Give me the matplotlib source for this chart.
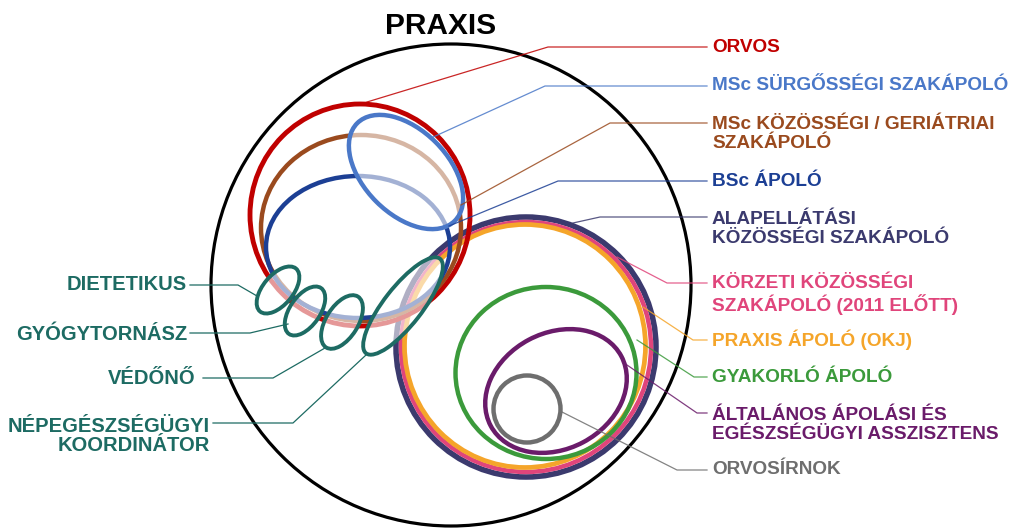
import matplotlib
matplotlib.use("Agg")
import matplotlib.pyplot as plt
from matplotlib.patches import Ellipse

plt.rcParams['font.family'] = ['Liberation Sans', 'DejaVu Sans']

# labels on the right side and their colours
right_labels = ["ORVOS", "MSc SÜRGŐSSÉGI SZAKÁPOLÓ", "MSc KÖZÖSSÉGI / GERIÁTRIAI\nSZAKÁPOLÓ",
                "BSc ÁPOLÓ", "ALAPELLÁTÁSI\nKÖZÖSSÉGI SZAKÁPOLÓ", "KÖRZETI KÖZÖSSÉGI\nSZAKÁPOLÓ (2011 ELŐTT)",
                "PRAXIS ÁPOLÓ (OKJ)", "GYAKORLÓ ÁPOLÓ", "ÁLTALÁNOS ÁPOLÁSI ÉS\nEGÉSZSÉGÜGYI ASSZISZTENS",
                "ORVOSÍRNOK"]
right_colors = ["#C00000", "#4A78C8", "#9A4A1E", "#1C3F94", "#3B3A6E", "#E0457B",
                "#F5A52A", "#3B9A3B", "#6A1B6A", "#6E6E6E"]
left_labels = ["DIETETIKUS", "GYÓGYTORNÁSZ", "VÉDŐNŐ", "NÉPEGÉSZSÉGÜGYI\nKOORDINÁTOR"]
teal = "#1D6B63"

fig = plt.figure(figsize=(10.13, 5.31), dpi=100)
ax = fig.add_axes([0, 0, 1, 1])
ax.set_xlim(0, 1013)
ax.set_ylim(531, 0)
ax.axis('off')

def ell(cx, cy, w, h, ang, col, lw, z, fill=False):
    e = Ellipse((cx, cy), w, h, angle=ang, edgecolor=col, lw=lw, zorder=z,
                facecolor=(1, 1, 1, 0.6) if fill else 'none')
    ax.add_patch(e)

# big praxis circle
ell(451, 285, 480, 482, 0, 'black', 2.3, 1)
ax.text(441, 26, "PRAXIS", ha='center', va='center', fontsize=21.5, fontweight='bold')

# right group
ell(526, 347, 260, 260, 0, right_colors[4], 4, 2)
ell(526, 347, 250, 250, 0, right_colors[5], 3.2, 2)
ell(525, 346, 241, 243, 0, right_colors[6], 3.4, 2)
ell(546, 373, 181, 172, 0, right_colors[7], 3.2, 2)
ell(556, 391, 148, 116, -28, right_colors[8], 3.2, 2)
ell(527, 409, 67, 67, 0, right_colors[9], 3.2, 2)

# left group
ell(360, 215, 220, 222, 0, right_colors[0], 3.5, 3)
ell(361, 228, 200, 186, 0, right_colors[2], 3.2, 3)
ell(358, 247, 184, 142, 0, right_colors[3], 3.2, 3)
ell(406, 172, 138, 84, 45, right_colors[1], 3.2, 4, fill=True)

# teal ellipses
ell(278, 290, 56, 30, -50, teal, 2.8, 5, fill=True)
ell(305, 311, 56, 30, -55, teal, 2.8, 5, fill=True)
ell(342, 322, 60, 32, -58, teal, 2.8, 5, fill=True)
ell(403, 306, 120, 38, -52, teal, 2.8, 5, fill=True)

# leader lines, right side
leaders_r = [[(367, 102), (548, 47), (707, 47)],
             [(431, 138), (545, 86), (707, 86)],
             [(461, 205), (610, 123), (707, 123)],
             [(449, 226), (558, 181), (707, 181)],
             [(573, 223), (600, 217), (707, 217)],
             [(617, 257), (667, 283), (707, 283)],
             [(643, 307), (693, 340), (707, 340)],
             [(637, 340), (694, 377), (707, 377)],
             [(627, 365), (697, 413), (707, 413)],
             [(562, 412), (677, 470), (707, 470)]]
for pts, c in zip(leaders_r, right_colors):
    ax.plot([p[0] for p in pts], [p[1] for p in pts], color=c, lw=0.9, alpha=0.85, zorder=6)

label_y = [47, 86, 134, 181, 229, 295, 340, 377, 425, 470]
for t, c, y in zip(right_labels, right_colors, label_y):
    ax.text(712, y, t, ha='left', va='center', fontsize=13.7, fontweight='bold',
            color=c, linespacing=1.12)

# leader lines, left side
leaders_l = [[(190, 285), (238, 285), (257, 296)],
             [(190, 333), (250, 333), (288, 324)],
             [(203, 378), (273, 378), (325, 348)],
             [(213, 423), (293, 423), (366, 355)]]
for pts in leaders_l:
    ax.plot([p[0] for p in pts], [p[1] for p in pts], color=teal, lw=0.9, zorder=6)

left_pos = [(187, 285), (187, 334), (195, 378), (210, 436)]
for t, (x, y) in zip(left_labels, left_pos):
    ax.text(x, y, t, ha='right', va='center', fontsize=14.5, fontweight='bold',
            color=teal, linespacing=1.05, multialignment='right')

fig.savefig('out.png', dpi=100)
